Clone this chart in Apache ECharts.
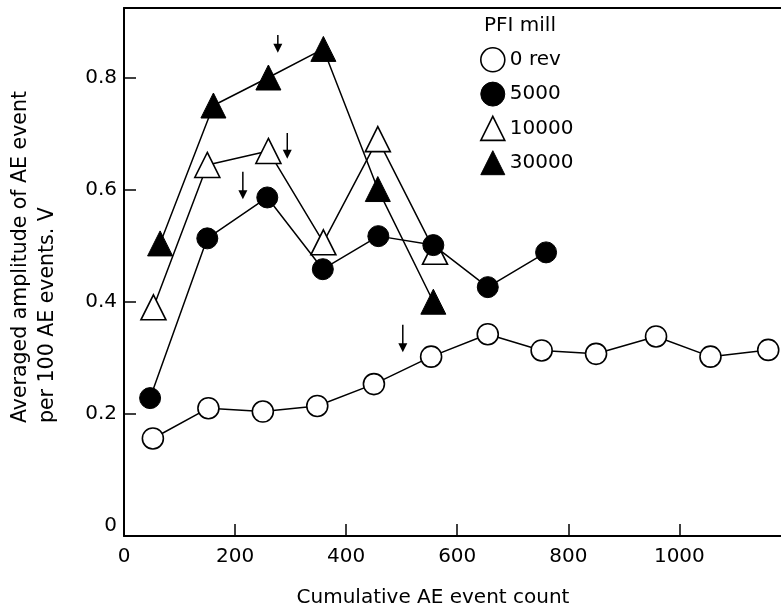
<!DOCTYPE html>
<html>
<head>
<meta charset="utf-8">
<script src="https://cdn.jsdelivr.net/npm/echarts@6/dist/echarts.min.js"></script>
<style>
  html, body { margin: 0; padding: 0; background: #fff; }
  #chart { width: 781px; height: 612px; }
</style>
</head>
<body>
<div id="chart"></div>
<script>
// Averaged AE amplitude per 100 events vs cumulative AE event count, by PFI mill revolutions
const seriesNames = ['0 rev', '5000', '10000', '30000'];

const countRev0 = [52, 152, 250, 348, 450, 553, 655, 752, 850, 958, 1056, 1160];
const ampRev0   = [0.156, 0.210, 0.204, 0.214, 0.253, 0.302, 0.342, 0.313, 0.307, 0.338, 0.302, 0.314];

const count5000 = [47, 150, 258, 358, 458, 557, 655, 760];
const amp5000   = [0.228, 0.513, 0.586, 0.458, 0.517, 0.501, 0.426, 0.488];

const count10000 = [53, 150, 260, 359, 457, 560];
const amp10000   = [0.390, 0.644, 0.669, 0.506, 0.690, 0.489];

const count30000 = [65, 161, 260, 359, 457, 557];
const amp30000   = [0.504, 0.750, 0.800, 0.851, 0.601, 0.400];

// Downward arrows: event count, top of shaft, tip (amplitude units)
const arrowCount = [277, 294, 214, 502];
const arrowTop   = [0.876, 0.701, 0.632, 0.359];
const arrowTip   = [0.844, 0.655, 0.583, 0.310];

const xTickLabels = [0, 200, 400, 600, 800, 1000];
const xTickMarks  = [200, 400, 600, 800, 1000];
const yTickLabels = [0, 0.2, 0.4, 0.6, 0.8];
const yTickMarks  = [0.2, 0.4, 0.6, 0.8];

const X_MAX = 1183;
const FONT = 'DejaVu Sans';
const INK = '#000';

function pairs(xs, ys) { return xs.map((x, i) => [x, ys[i]]); }

const openStyle = { color: '#fff', borderColor: INK, borderWidth: 1.6 };
const filledStyle = { color: INK, borderColor: INK, borderWidth: 1 };
const joinStyle = { color: INK, width: 1.5 };
const frameLine = { color: INK, width: 2 };

const chart = echarts.init(document.getElementById('chart'), null, { renderer: 'canvas' });

chart.setOption({
  animation: false,
  backgroundColor: '#fff',
  title: {
    text: 'PFI mill',
    left: 484,
    top: 16,
    padding: 0,
    textStyle: { fontFamily: FONT, fontSize: 20, fontWeight: 'normal', color: INK }
  },
  legend: {
    orient: 'vertical',
    left: 480,
    top: 47,
    padding: 0,
    itemWidth: 24,
    itemHeight: 24,
    itemGap: 9,
    selectedMode: false,
    textStyle: { fontFamily: FONT, fontSize: 20, color: INK },
    data: [
      { name: seriesNames[0], icon: 'circle', itemStyle: openStyle },
      { name: seriesNames[1], icon: 'circle', itemStyle: filledStyle },
      { name: seriesNames[2], icon: 'triangle', itemStyle: openStyle },
      { name: seriesNames[3], icon: 'triangle', itemStyle: filledStyle }
    ]
  },
  grid: { left: 124, top: 8, right: 0, bottom: 76 },
  xAxis: [
    {
      type: 'value',
      min: 0,
      max: X_MAX,
      axisLine: { show: true, onZero: false, lineStyle: frameLine },
      axisTick: { show: true, inside: true, length: 12, customValues: xTickMarks, lineStyle: { color: INK, width: 1.5 } },
      axisLabel: {
        customValues: xTickLabels, margin: 11, fontFamily: FONT, fontSize: 20, color: INK,
        formatter: v => String(Math.round(v))
      },
      splitLine: { show: false }
    },
    {
      // top edge of the frame
      type: 'value', position: 'top', min: 0, max: X_MAX,
      axisLine: { show: true, onZero: false, lineStyle: frameLine },
      axisTick: { show: false }, axisLabel: { show: false }, splitLine: { show: false }
    }
  ],
  yAxis: {
    type: 'value',
    min: -0.018,
    max: 0.924,
    axisLine: { show: true, onZero: false, lineStyle: frameLine },
    axisTick: { show: true, inside: true, length: 12, customValues: yTickMarks, lineStyle: { color: INK, width: 1.5 } },
    axisLabel: {
      customValues: yTickLabels, margin: 7, fontFamily: FONT, fontSize: 20, color: INK,
      formatter: v => String(+(+v).toFixed(1))
    },
    splitLine: { show: false }
  },
  graphic: [
    {
      type: 'text',
      x: 7, y: 423,
      rotation: Math.PI / 2,
      style: {
        text: 'Averaged amplitude of AE event\nper 100 AE events. V',
        font: '20.5px "DejaVu Sans"',
        fill: INK,
        textAlign: 'left',
        textVerticalAlign: 'top',
        lineHeight: 27
      }
    },
    {
      type: 'text',
      x: 433, y: 598,
      style: {
        text: 'Cumulative AE event count',
        font: '20px "DejaVu Sans"',
        fill: INK,
        textAlign: 'center',
        textVerticalAlign: 'middle'
      }
    }
  ],
  series: [
    {
      name: seriesNames[0], type: 'line', data: pairs(countRev0, ampRev0),
      symbol: 'circle', symbolSize: 21, showAllSymbol: true,
      itemStyle: openStyle, lineStyle: joinStyle, z: 2
    },
    {
      name: seriesNames[2], type: 'line', data: pairs(count10000, amp10000),
      symbol: 'triangle', symbolSize: [25, 25], showAllSymbol: true,
      itemStyle: openStyle, lineStyle: joinStyle, z: 3
    },
    {
      name: seriesNames[1], type: 'line', data: pairs(count5000, amp5000),
      symbol: 'circle', symbolSize: 21, showAllSymbol: true,
      itemStyle: filledStyle, lineStyle: joinStyle, z: 4
    },
    {
      name: seriesNames[3], type: 'line', data: pairs(count30000, amp30000),
      symbol: 'triangle', symbolSize: [25, 25], showAllSymbol: true,
      itemStyle: filledStyle, lineStyle: joinStyle, z: 5
    },
    {
      name: 'arrows', type: 'custom',
      data: arrowCount.map((x, i) => [x, arrowTop[i], arrowTip[i]]),
      encode: { x: 0, y: [1, 2] },
      z: 6,
      renderItem: function (params, api) {
        const x = api.value(0);
        const top = api.coord([x, api.value(1)]);
        const tip = api.coord([x, api.value(2)]);
        const hw = 4.5, hh = 9;
        return {
          type: 'group',
          children: [
            { type: 'line', shape: { x1: top[0], y1: top[1], x2: tip[0], y2: tip[1] - hh + 1 },
              style: { stroke: INK, lineWidth: 1.5 } },
            { type: 'polygon', shape: { points: [[tip[0] - hw, tip[1] - hh], [tip[0] + hw, tip[1] - hh], [tip[0], tip[1]]] },
              style: { fill: INK } }
          ]
        };
      }
    }
  ]
});
</script>
</body>
</html>
